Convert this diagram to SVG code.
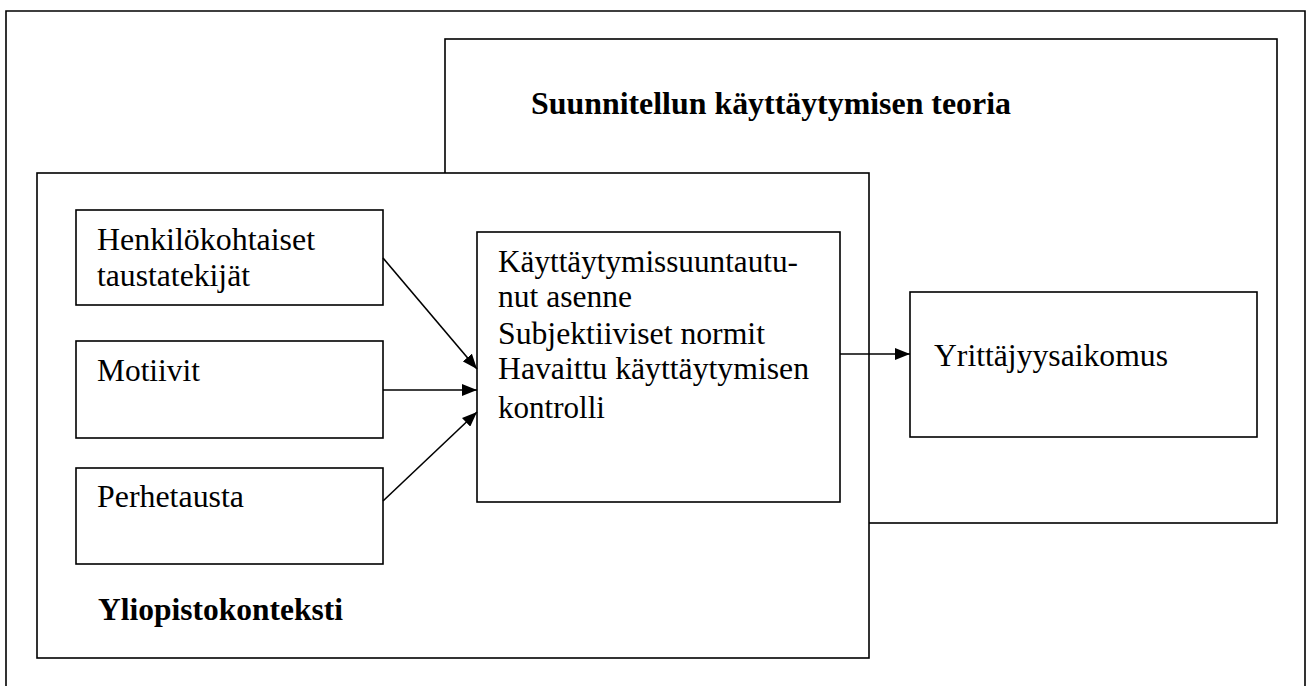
<svg xmlns="http://www.w3.org/2000/svg" width="1307" height="686" viewBox="0 0 1307 686">
<style>
.box{fill:#fff;stroke:#000;stroke-width:1.6}
.t{font-family:'Liberation Serif','DejaVu Serif','Times New Roman',serif;font-size:31px;fill:#000}
.b{font-family:'Liberation Serif','DejaVu Serif','Times New Roman',serif;font-size:31px;font-weight:bold;fill:#000}
.c{stroke:#000;stroke-width:1.6;fill:none}
</style>
<defs>
<marker id="ah" viewBox="0 0 15 12" refX="15" refY="6" markerWidth="15" markerHeight="12" markerUnits="userSpaceOnUse" orient="auto">
<path d="M0,0 L15,6 L0,12 Z" fill="#000"/>
</marker>
</defs>
<rect width="1307" height="686" fill="#fff"/>
<g id="frame"><path class="c" d="M6,700 L6,11 L1305,11 L1305,700"/></g>
<g id="theory">
<rect class="box" x="445" y="39" width="832" height="484"/>
<text class="b" x="531" y="114" textLength="480" lengthAdjust="spacingAndGlyphs">Suunnitellun käyttäytymisen teoria</text>
</g>
<g id="university">
<rect class="box" x="37" y="173" width="832" height="485"/>
<text class="b" x="98" y="620" textLength="245" lengthAdjust="spacingAndGlyphs">Yliopistokonteksti</text>
</g>
<g id="henkilo">
<rect class="box" x="76" y="210" width="307" height="95"/>
<text class="t" x="97" y="250" textLength="218" lengthAdjust="spacingAndGlyphs">Henkilökohtaiset</text>
<text class="t" x="97" y="286" textLength="153" lengthAdjust="spacingAndGlyphs">taustatekijät</text>
</g>
<g id="motiivit">
<rect class="box" x="76" y="341" width="307" height="97"/>
<text class="t" x="97" y="381" textLength="103" lengthAdjust="spacingAndGlyphs">Motiivit</text>
</g>
<g id="perhetausta">
<rect class="box" x="76" y="468" width="307" height="96"/>
<text class="t" x="97" y="507" textLength="147" lengthAdjust="spacingAndGlyphs">Perhetausta</text>
</g>
<g id="asenne">
<rect class="box" x="477" y="232" width="363" height="270"/>
<text class="t" x="498" y="272" textLength="300" lengthAdjust="spacingAndGlyphs">Käyttäytymissuuntautu-</text>
<text class="t" x="498" y="307" textLength="134" lengthAdjust="spacingAndGlyphs">nut asenne</text>
<text class="t" x="498" y="344" textLength="267" lengthAdjust="spacingAndGlyphs">Subjektiiviset normit</text>
<text class="t" x="498" y="379" textLength="311" lengthAdjust="spacingAndGlyphs">Havaittu käyttäytymisen</text>
<text class="t" x="498" y="418" textLength="107" lengthAdjust="spacingAndGlyphs">kontrolli</text>
</g>
<g id="aikomus">
<rect class="box" x="910" y="292" width="347" height="145"/>
<text class="t" x="934" y="366" textLength="234" lengthAdjust="spacingAndGlyphs">Yrittäjyysaikomus</text>
</g>
<g id="connectors">
<line class="c" x1="383" y1="258" x2="477" y2="369" marker-end="url(#ah)"/>
<line class="c" x1="383" y1="390" x2="477" y2="390" marker-end="url(#ah)"/>
<line class="c" x1="383" y1="501" x2="477" y2="412" marker-end="url(#ah)"/>
<line class="c" x1="840" y1="354" x2="910" y2="354" marker-end="url(#ah)"/>
</g>
</svg>
